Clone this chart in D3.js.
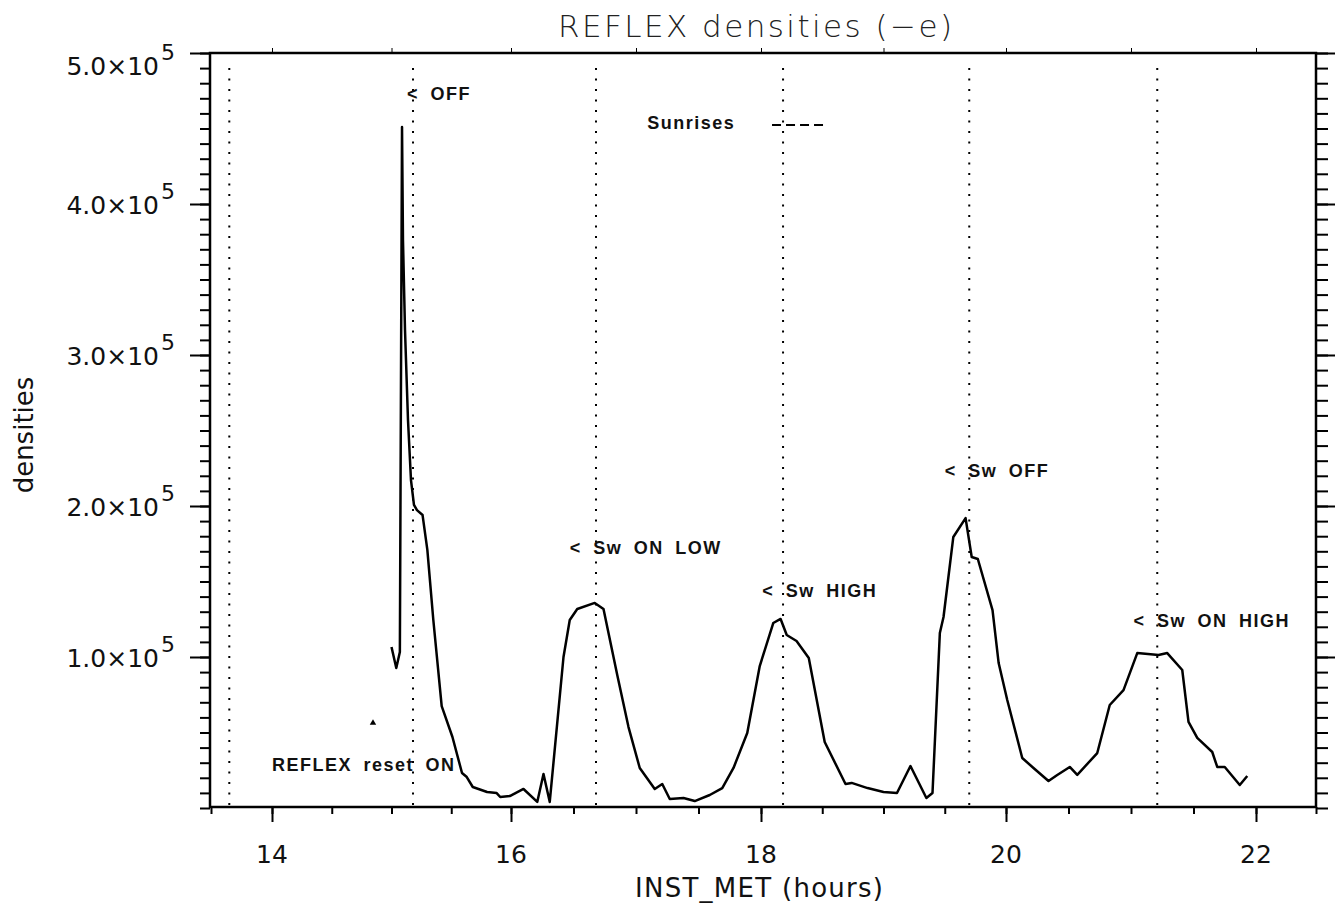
<!DOCTYPE html>
<html>
<head>
<meta charset="utf-8">
<script src="https://cdn.jsdelivr.net/npm/d3@7"></script>
<style>
body { margin: 0; background: #fff; }
text { font-family: "DejaVu Sans", sans-serif; fill: #111; }
.note { font-family: "Liberation Sans", Arial, sans-serif; font-weight: bold; font-size: 18px; letter-spacing: 1.5px; word-spacing: 5px; }
</style>
</head>
<body>
<div id="viz"></div>
<script>
// INST_MET (hours) and REFLEX densities
var hours = [15.00, 15.04, 15.07, 15.088, 15.096, 15.113, 15.138, 15.163, 15.188, 15.213,
  15.26, 15.30, 15.35, 15.42, 15.51, 15.59, 15.63, 15.68, 15.80, 15.88,
  15.91, 15.99, 16.10, 16.21, 16.26, 16.31, 16.42, 16.47, 16.53, 16.67,
  16.74, 16.85, 16.94, 17.03, 17.15, 17.21, 17.27, 17.38, 17.47, 17.59,
  17.69, 17.78, 17.89, 17.99, 18.10, 18.16, 18.21, 18.29, 18.39, 18.52,
  18.69, 18.74, 18.87, 19.00, 19.11, 19.22, 19.35, 19.40, 19.46, 19.49,
  19.57, 19.67, 19.72, 19.77, 19.89, 19.94, 20.01, 20.13, 20.22, 20.34,
  20.41, 20.51, 20.57, 20.73, 20.83, 20.94, 21.05, 21.22, 21.29, 21.41,
  21.46, 21.53, 21.65, 21.69, 21.75, 21.87, 21.93]

var densities = [106600, 92700, 103300, 451000, 376200, 316600, 257000, 217200, 200700, 197300,
  194000, 170900, 124500, 67500, 47000, 23200, 20500, 13900, 10600, 9900,
  7300, 7900, 12600, 4000, 22500, 4000, 100000, 124500, 131800, 135800,
  131800, 88100, 53600, 26500, 12600, 15900, 6000, 6600, 4600, 8600,
  13200, 26500, 49700, 94000, 122500, 125200, 114600, 110600, 99300, 43700,
  15900, 16600, 13200, 10600, 9900, 27800, 6600, 9900, 115900, 126500,
  179500, 192000, 166200, 164900, 131100, 96000, 71500, 33100, 26500, 17900,
  21900, 27200, 21900, 36400, 68200, 78100, 102600, 101300, 102600, 91400,
  57000, 46400, 37100, 27200, 27200, 15200, 21200]

// sunrise times (dotted verticals)
var sunrises = [13.65, 15.18, 16.68, 18.18, 19.70, 21.21]

// tick labels
var xTickLabels = [14, 16, 18, 20, 22]
var yTickLabels = [1e5, 2e5, 3e5, 4e5, 5e5]

// event notes: text and where they sit (hours, density at baseline)
var notes = ["< OFF", "< Sw ON LOW", "< Sw HIGH", "< Sw OFF", "< Sw ON HIGH", "REFLEX reset ON", "Sunrises"]
var noteHours = [15.13, 16.47, 18.01, 19.50, 21.02, 14.00, 17.09]
var noteDensities = [469000, 168000, 139700, 219200, 119900, 24500, 449700]

// reset marker
var markerHour = 14.845
var markerDensity = 56300

var width = 1335, height = 909

// the scanned axis is a little uneven between labelled ticks, so a polylinear scale
var x = d3.scaleLinear()
    .domain([13.5, 14, 16, 18, 20, 22, 22.5])
    .range([211, 272, 511, 761, 1006, 1256, 1316])

var y = d3.scaleLinear()
    .domain([0, 5e5])
    .range([808, 53])

var svg = d3.select("#viz")
    .append("svg")
    .attr("width", width)
    .attr("height", height)

// Title
svg.append("text")
    .attr("x", 558)
    .attr("y", 37)
    .attr("textLength", 394)
    .attr("lengthAdjust", "spacing")
    .style("font-size", "31px")
    .style("font-weight", 200)
    .style("fill", "#222")
    .text("REFLEX densities (\u2212e)")

// Sunrise dotted lines
svg.append("g")
    .selectAll("line")
    .data(sunrises)
    .enter()
    .append("line")
    .attr("x1", d => x(d))
    .attr("x2", d => x(d))
    .attr("y1", y(4.9e5))
    .attr("y2", y(0))
    .style("stroke", "#000")
    .style("stroke-width", 2)
    .style("stroke-dasharray", "2,8.5")

// Axes: minor + major ticks on every side, no domain path (frame drawn below)
function ticks(axis, vals, size, tx) {
    let g = svg.append("g")
        .attr("transform", tx)
        .call(axis.tickValues(vals).tickSize(size).tickFormat(""))
    g.select(".domain").remove()
    g.selectAll("line").style("stroke", "#000").style("stroke-width", 2)
    return g
}

ticks(d3.axisBottom(x), d3.range(13.5, 22.51, 0.5), 7, "translate(0,807)")
ticks(d3.axisBottom(x), xTickLabels, 15, "translate(0,807)")
ticks(d3.axisTop(x), d3.range(14, 22.1, 1), 5, "translate(0,53)")
    .selectAll("line").style("stroke-width", 1)
ticks(d3.axisLeft(y), d3.range(0, 5e5 + 1, 1e4), 10, "translate(210,0)")
ticks(d3.axisLeft(y), yTickLabels, 20, "translate(210,0)")
ticks(d3.axisRight(y), d3.range(0, 5e5 + 1, 1e4), 12, "translate(1316,0)")
ticks(d3.axisRight(y), yTickLabels, 19, "translate(1316,0)")

// Frame
svg.append("rect")
    .attr("x", x.range()[0] - 1)
    .attr("y", y(5e5))
    .attr("width", x(22.5) - x(13.5) + 1)
    .attr("height", y(0) - y(5e5) - 1)
    .style("fill", "none")
    .style("stroke", "#000")
    .style("stroke-width", 2.5)

// X tick labels
svg.append("g")
    .selectAll("text")
    .data(xTickLabels)
    .enter()
    .append("text")
    .attr("x", d => x(d))
    .attr("y", 863)
    .attr("text-anchor", "middle")
    .style("font-size", "25px")
    .text(d => d)

// Y tick labels, n.0x10^5
var yLab = svg.append("g")
    .selectAll("text")
    .data(yTickLabels)
    .enter()
    .append("text")
    .attr("x", 175)
    .attr("y", d => y(d) + (d == 5e5 ? 22 : 10))
    .attr("text-anchor", "end")
    .style("font-size", "25px")

yLab.append("tspan")
    .text(d => (d / 1e5).toFixed(1) + "\u00d710")
yLab.append("tspan")
    .attr("dx", 2)
    .attr("dy", -15)
    .style("font-size", "22px")
    .text("5")

// Axis titles
svg.append("text")
    .attr("x", 635)
    .attr("y", 897)
    .attr("textLength", 248)
    .attr("lengthAdjust", "spacing")
    .style("font-size", "26px")
    .text("INST_MET (hours)")

svg.append("text")
    .attr("transform", "translate(33,435) rotate(-90)")
    .attr("text-anchor", "middle")
    .style("font-size", "26px")
    .text("densities")

// Density line
var line = d3.line()
    .x(d => x(d[0]))
    .y(d => y(d[1]))

svg.append("path")
    .datum(d3.zip(hours, densities))
    .attr("d", line)
    .style("fill", "none")
    .style("stroke", "#000")
    .style("stroke-width", 2.5)
    .style("stroke-linejoin", "round")

// Notes
svg.append("g")
    .selectAll("text")
    .data(notes)
    .enter()
    .append("text")
    .attr("class", "note")
    .attr("x", (d, i) => x(noteHours[i]))
    .attr("y", (d, i) => y(noteDensities[i]))
    .text(d => d)

// "Sunrises" legend dash
svg.append("line")
    .attr("x1", x(18.09))
    .attr("x2", x(18.54))
    .attr("y1", y(452300))
    .attr("y2", y(452300))
    .style("stroke", "#000")
    .style("stroke-width", 2)
    .style("stroke-dasharray", "9,5")

// reset marker
svg.append("path")
    .attr("transform", "translate(" + x(markerHour) + "," + y(markerDensity) + ")")
    .attr("d", d3.symbol(d3.symbolTriangle, 18))
    .style("fill", "#000")
</script>
</body>
</html>
